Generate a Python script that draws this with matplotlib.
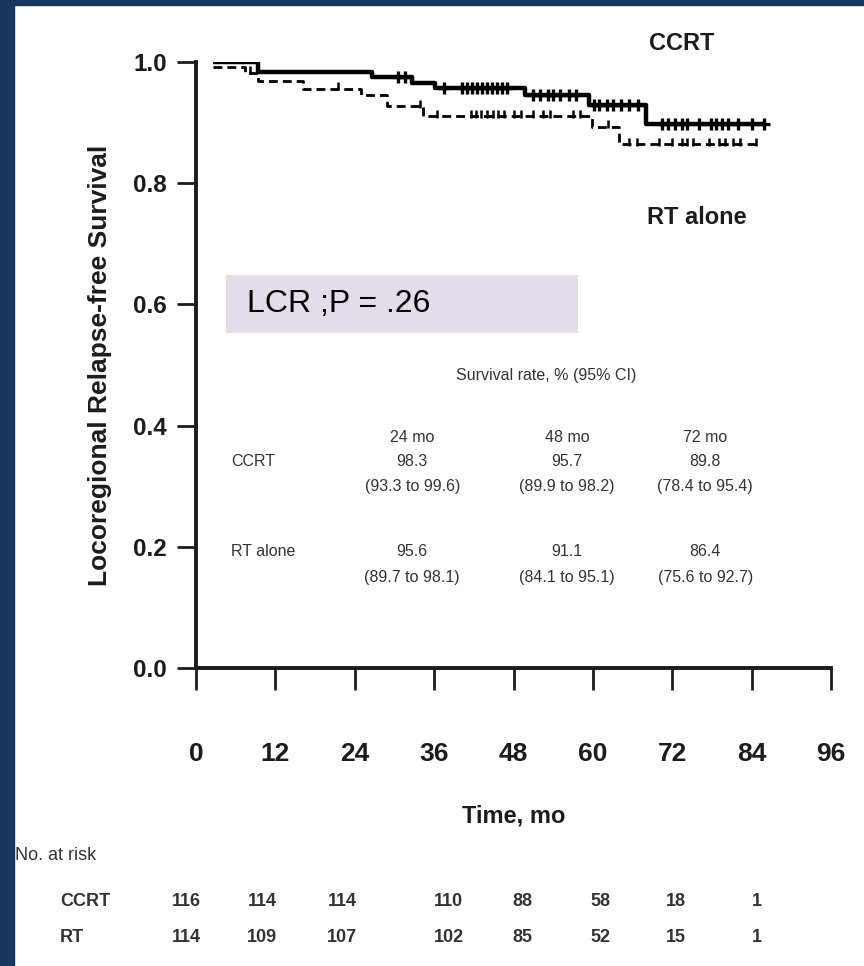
import numpy as np
import matplotlib
matplotlib.use("Agg")
import matplotlib.pyplot as plt
from matplotlib.patches import Rectangle
from matplotlib.transforms import blended_transform_factory

# Kaplan-Meier steps (time in months, survival fraction)
CCRT_T = [2.6, 9.4, 26.6, 32.7, 36.1, 49.7, 59.4, 68.0, 86.0]
CCRT_S = [1.000, 0.983, 0.975, 0.965, 0.957, 0.945, 0.929, 0.898, 0.898]
RT_T = [2.6, 7.4, 9.4, 16.2, 25.0, 28.9, 34.3, 59.9, 64.0, 84.8]
RT_S = [0.991, 0.982, 0.969, 0.956, 0.946, 0.927, 0.911, 0.893, 0.864, 0.864]

# censoring times
CCRT_CENS = [30.5, 31.6, 37.5, 40.2, 41.0, 41.8, 42.5, 43.3, 44.0, 44.8, 45.5,
             46.3, 47.0, 51.0, 52.0, 53.2, 54.0, 55.1, 56.4, 57.5, 60.2, 61.0,
             62.1, 63.0, 64.2, 65.5, 66.8, 70.5, 71.3, 72.4, 73.5, 74.2, 76.0,
             77.8, 78.6, 79.5, 80.4, 82.0, 84.0, 85.9]
RT_CENS = [8.2, 21.5, 33.8, 36.5, 41.5, 42.3, 43.1, 44.0, 44.9, 45.7, 46.6,
           48.0, 49.2, 51.0, 52.5, 53.5, 57.0, 58.0, 62.3, 65.5, 66.6, 70.0,
           72.0, 73.4, 74.3, 75.1, 77.5, 79.0, 80.0, 81.2, 82.3, 84.6]

# survival rate table
RATE_COLS = ["24 mo", "48 mo", "72 mo"]
CCRT_RATE = ["98.3", "95.7", "89.8"]
CCRT_CI = ["(93.3 to 99.6)", "(89.9 to 98.2)", "(78.4 to 95.4)"]
RT_RATE = ["95.6", "91.1", "86.4"]
RT_CI = ["(89.7 to 98.1)", "(84.1 to 95.1)", "(75.6 to 92.7)"]

# number at risk
CCRT_RISK = [116, 114, 114, 110, 88, 58, 18, 1]
RT_RISK = [114, 109, 107, 102, 85, 52, 15, 1]
RISK_X = [-1.5, 10.0, 22.1, 38.2, 49.4, 61.1, 72.6, 84.8]

XTICKS = [0, 12, 24, 36, 48, 60, 72, 84, 96]
YTICKS = [0.0, 0.2, 0.4, 0.6, 0.8, 1.0]

NAVY = "#17375e"
INK = "#1c1c1c"
GREY = "#333333"

plt.rcParams["font.family"] = ["Liberation Sans", "DejaVu Sans"]

W, H = 864, 966
fig = plt.figure(figsize=(W / 100, H / 100), dpi=100)
fig.patch.set_facecolor("white")

# dark frame on left and top edges
fig.patches.append(Rectangle((0, 0), 14 / W, 1, transform=fig.transFigure,
                             color=NAVY, zorder=0))
fig.patches.append(Rectangle((0, 1 - 5 / H), 1, 5 / H, transform=fig.transFigure,
                             color=NAVY, zorder=0))

ax = fig.add_axes([196 / W, 298 / H, 635 / W, 606 / H])
ax.set_xlim(0, 96)
ax.set_ylim(0, 1.0)
for s in ("top", "right"):
    ax.spines[s].set_visible(False)
for s in ("left", "bottom"):
    ax.spines[s].set_linewidth(2.8)
    ax.spines[s].set_color(INK)

ax.set_xticks(XTICKS)
ax.set_yticks(YTICKS)
ax.set_yticklabels([f"{v:.1f}" for v in YTICKS])
ax.tick_params(axis="y", direction="out", length=14, width=2, pad=7,
               labelsize=17.5, colors=INK)
ax.tick_params(axis="x", direction="out", length=16, width=2, pad=37,
               labelsize=19, colors=INK)
for lab in ax.get_xticklabels() + ax.get_yticklabels():
    lab.set_fontweight("bold")

ax.set_ylabel("Locoregional Relapse-free Survival", fontsize=19,
              fontweight="bold", color=INK, labelpad=15)
ax.set_xlabel("Time, mo", fontsize=17, fontweight="bold", color=INK,
              labelpad=28)


def step_value(times, surv, t):
    i = np.searchsorted(times, t, side="right") - 1
    return np.asarray(surv)[np.clip(i, 0, len(surv) - 1)]


# curves
ax.step(CCRT_T, CCRT_S, where="post", color="black", lw=3.2,
        solid_capstyle="butt", zorder=4)
ax.plot(CCRT_CENS, step_value(CCRT_T, CCRT_S, CCRT_CENS), ls="none",
        marker="+", ms=9, mew=2.4, color="black", zorder=5)

rt_line, = ax.step(RT_T, RT_S, where="post", color="black", lw=2.0, zorder=3)
rt_line.set_dashes((3.2, 1.8))
ax.plot(RT_CENS, step_value(RT_T, RT_S, RT_CENS) + 0.004, ls="none",
        marker="|", ms=6, mew=1.8, color="black", zorder=5)

# curve labels
ax.text(73.5, 1.031, "CCRT", ha="center", va="center", fontsize=17,
        fontweight="bold", color=INK, clip_on=False)
ax.text(75.7, 0.744, "RT alone", ha="center", va="center", fontsize=17,
        fontweight="bold", color=INK)

# p-value box
ax.add_patch(Rectangle((4.5, 0.553), 53.2, 0.096, facecolor="#e2dde9",
                       edgecolor="none", zorder=2))
ax.text(7.7, 0.601, "LCR ;P = .26", ha="left", va="center", fontsize=23,
        color="black", zorder=3)

# survival rate table
col_x = [32.7, 56.1, 77.0]
tkw = dict(ha="center", va="center", fontsize=11.5, color=GREY)
ax.text(52.9, 0.482, "Survival rate, % (95% CI)", **tkw)
for x, head, r1, c1, r2, c2 in zip(col_x, RATE_COLS, CCRT_RATE, CCRT_CI,
                                   RT_RATE, RT_CI):
    ax.text(x, 0.381, head, **tkw)
    ax.text(x, 0.340, r1, **tkw)
    ax.text(x, 0.299, c1, **tkw)
    ax.text(x, 0.193, r2, **tkw)
    ax.text(x, 0.150, c2, **tkw)
ax.text(5.3, 0.340, "CCRT", ha="left", va="center", fontsize=11.5, color=GREY)
ax.text(5.3, 0.193, "RT alone", ha="left", va="center", fontsize=11.5,
        color=GREY)

# number at risk
risk_tr = blended_transform_factory(ax.transData, fig.transFigure)
rkw = dict(va="center", fontsize=13, color=GREY)
fig.text(15 / W, 1 - 855 / H, "No. at risk", ha="left", **rkw)
fig.text(60 / W, 1 - 901 / H, "CCRT", ha="left", fontweight="bold", **rkw)
fig.text(60 / W, 1 - 937 / H, "RT", ha="left", fontweight="bold", **rkw)
for x, a, b in zip(RISK_X, CCRT_RISK, RT_RISK):
    ax.text(x, 1 - 901 / H, str(a), ha="center", transform=risk_tr,
            clip_on=False, fontweight="bold", **rkw)
    ax.text(x, 1 - 937 / H, str(b), ha="center", transform=risk_tr,
            clip_on=False, fontweight="bold", **rkw)

fig.savefig("out.png", dpi=100)
